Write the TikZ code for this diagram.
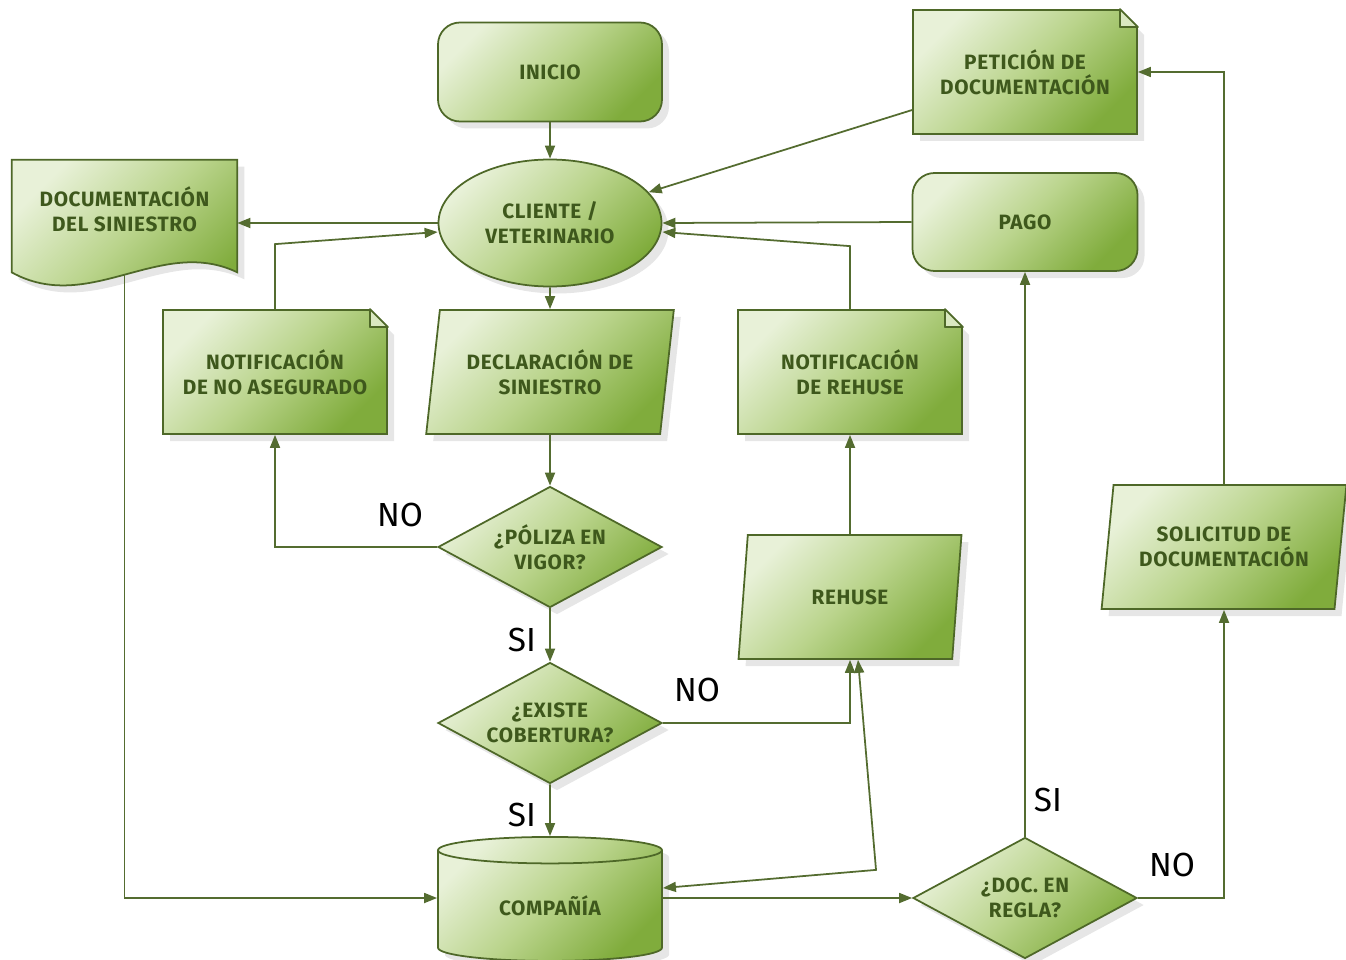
\documentclass[tikz,border=0pt]{standalone}
\usepackage{fontspec}
\setmainfont{Fira Sans}
\newfontfamily\boxfont{Fira Sans}[LetterSpace=3.0]
\usetikzlibrary{shapes.geometric, shapes.misc, arrows.meta, calc, shadows}
\definecolor{boxline}{RGB}{78,104,40}
\definecolor{boxtext}{RGB}{62,88,28}
\definecolor{arrline}{RGB}{84,108,48}
\definecolor{greenhi}{RGB}{232,241,216}
\definecolor{greenmid}{RGB}{186,212,140}
\definecolor{greenlo}{RGB}{128,172,60}

\begin{document}
\begin{tikzpicture}[x=0.2mm, y=-0.2mm,
    box/.style={draw=boxline, line width=1pt, top color=greenhi, bottom color=greenlo, middle color=greenmid, shading angle=45,
      text=boxtext, font=\boxfont\bfseries\fontsize{11.8}{14}\selectfont, align=center, inner sep=0pt,
      drop shadow={opacity=0.2, shadow xshift=1.4mm, shadow yshift=-1.4mm}},
    term/.style={box, rectangle, rounded corners=4.4mm, minimum width=44.8mm, minimum height=19.8mm},
    actor/.style={box, ellipse, minimum width=44.6mm, minimum height=25.4mm},
    note/.style={box, chamfered rectangle, chamfered rectangle corners=north east, chamfered rectangle xsep=1.8mm,
      chamfered rectangle ysep=1.8mm, minimum width=44.8mm, minimum height=24.8mm},
    io/.style={box, trapezium, trapezium left angle=77, trapezium right angle=103, trapezium stretches=true, minimum height=24.8mm},
    decision/.style={box, diamond, aspect=1.9, minimum width=44.8mm, minimum height=24.2mm},
    datastore/.style={box, cylinder, shape border rotate=90, aspect=0.26, minimum width=44.8mm, minimum height=24.8mm},
    holder/.style={text=boxtext, font=\boxfont\bfseries\fontsize{11.8}{14}\selectfont, align=center, inner sep=0pt},
    fold/.style={draw=boxline, line width=1pt, fill=greenhi!70!greenmid, line join=round},
    arr/.style={draw=arrline, line width=1pt, -{Triangle[length=2.6mm,width=2mm]}},
    arrboth/.style={draw=arrline, line width=1pt, {Triangle[length=2.6mm,width=2mm]}-{Triangle[length=2.6mm,width=2mm]}},
    lbl/.style={font=\fontsize{19}{22}\selectfont, text=black}]
    \useasboundingbox (0,0) rectangle (1346,960);

    % Document shape (drawn round its node)
    \node[holder, minimum width=45mm, minimum height=22mm] (docsin) at (124.5,215) {};
    \path[box] (docsin.north west) -- (docsin.north east) -- ($(docsin.south east)+(0,2)$)
      .. controls +(-77,-37) and +(78,43) .. ($(docsin.south west)+(0,2)$) -- cycle;
    \node[holder] (docsintext) at ($(docsin)+(0,-6)$) {DOCUMENTACIÓN\\DEL SINIESTRO};

    % Main column
    \node[term] (inicio) at (550,72) {INICIO};
    \node[actor] (cliente) at (550,223) {CLIENTE /\\VETERINARIO};
    \node[io, minimum width=49.6mm] (declar) at (550,372) {DECLARACIÓN DE\\SINIESTRO};
    \node[decision] (poliza) at (550,547) {¿PÓLIZA EN\\VIGOR?};
    \node[decision] (existe) at (550,723) {¿EXISTE\\COBERTURA?};
    \node[datastore] (compania) at (550,906) {COMPAÑÍA};

    % Side boxes
    \node[note] (noaseg) at (275,372) {NOTIFICACIÓN\\DE NO ASEGURADO};
    \node[note] (notrehuse) at (850,372) {NOTIFICACIÓN\\DE REHUSE};
    \node[io, minimum width=44.8mm] (rehuse) at (850,597) {REHUSE};
    \node[note] (peticion) at (1025,72) {PETICIÓN DE\\DOCUMENTACIÓN};
    \node[term, minimum width=45mm, minimum height=19.6mm] (pago) at (1025,222) {PAGO};
    \node[io, minimum width=49mm] (solicitud) at (1224,547) {SOLICITUD DE\\DOCUMENTACIÓN};
    \node[decision] (docregla) at (1025,898) {¿DOC. EN\\REGLA?};

    % Folded corners
    \foreach \n in {noaseg, notrehuse, peticion}
      \draw[fold] ($(\n.north -| \n.east)+(-18,0)$) |- ($(\n.north -| \n.east)+(0,18)$) -- cycle;

    % Connectors
    \draw[arr] (inicio) -- (cliente);
    \draw[arr] (cliente.west) -- (cliente.west -| docsin.east);
    \draw[arr] ($(docsin.south)+(0,4)$) |- ($(compania.west)+(0,-8)$);
    \draw[arr] (noaseg.north) -- ++(0,-65) -- ($(cliente.west)+(0,9)$);
    \draw[arr] (cliente) -- (declar);
    \draw[arr] (declar) -- (poliza);
    \draw[arr] (poliza.west) -| (noaseg.south);
    \draw[arr] (poliza) -- (existe);
    \draw[arr] (existe) -- (compania);
    \draw[arr] (existe.east) -| (rehuse.south);
    \draw[arrboth] ($(rehuse.south)+(8,0)$) -- ++(18,210) -- ($(compania.east)+(0,-18)$);
    \draw[arr] (rehuse) -- (notrehuse);
    \draw[arr] (notrehuse.north) -- ++(0,-63) -- ($(cliente.east)+(0,9)$);
    \draw[arr] (pago.west) -- (cliente.east);
    \draw[arr] ($(peticion.west)+(0,38)$) -- (cliente);
    \draw[arr] ($(compania.east)+(0,-8)$) -- (docregla.west);
    \draw[arr] (docregla.north) -- (pago.south);
    \draw[arr] (docregla.east) -| (solicitud.south);
    \draw[arr] (solicitud.north) |- (peticion.east);

    % Branch labels
    \node[lbl] (nopoliza) at (400,515) {NO};
    \node[lbl] (sipoliza) at (522,640) {SI};
    \node[lbl] (noexiste) at (697,690) {NO};
    \node[lbl] (siexiste) at (522,815) {SI};
    \node[lbl] (siregla) at (1048,800) {SI};
    \node[lbl] (noregla) at (1172,865) {NO};
\end{tikzpicture}
\end{document}
